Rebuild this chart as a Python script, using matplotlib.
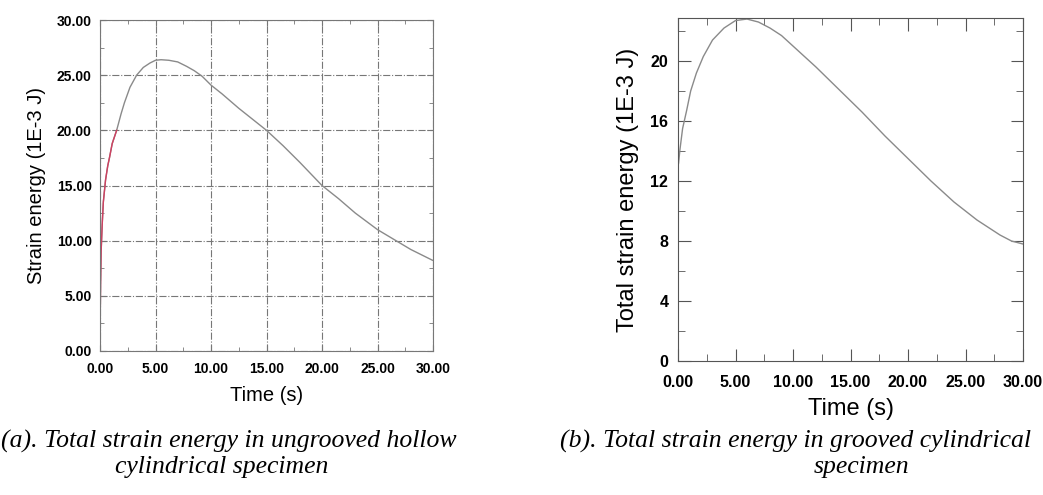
import matplotlib
matplotlib.use("Agg")
import matplotlib.pyplot as plt
from matplotlib.ticker import MultipleLocator, FormatStrFormatter

# (a) ungrooved hollow cylindrical specimen
left_time = [0, 0.02, 0.05, 0.1, 0.2, 0.3, 0.5, 0.7, 0.85, 1.1, 1.5, 1.9, 2.2, 2.7, 3.3,
             3.9, 4.5, 5.0, 5.5, 6.2, 7.0, 7.8, 8.5, 9.2, 10, 11, 12.5, 14, 15, 16.5,
             18, 20, 21.5, 23, 25, 26.5, 28, 29, 30]
left_energy = [0, 3, 6, 9, 11.5, 13.5, 15.5, 16.8, 17.5, 18.8, 20, 21.5, 22.5, 23.9, 25,
               25.7, 26.1, 26.35, 26.4, 26.35, 26.2, 25.8, 25.4, 24.9, 24.1, 23.3, 22.0,
               20.8, 20, 18.6, 17.1, 15, 13.8, 12.5, 11, 10.1, 9.2, 8.7, 8.2]
left_red_n = 11  # red series visible over the first points only

# (b) grooved cylindrical specimen
right_time = [0, 0.05, 0.17, 0.4, 0.75, 1.1, 1.6, 2.2, 3.0, 4.0, 5.0, 6.0, 7.0, 8.0,
              9.0, 10, 12, 14, 16, 18, 20, 22, 24, 26, 28, 29, 30]
right_energy = [13, 13.2, 14.1, 15.5, 16.7, 18.0, 19.2, 20.3, 21.4, 22.2, 22.7, 22.8,
                22.6, 22.2, 21.7, 21.0, 19.6, 18.1, 16.6, 15.0, 13.5, 12.0, 10.6, 9.4,
                8.4, 8.0, 7.8]
right_red_time = [0, 0]
right_red_energy = [0, 13]

W, H = 1043, 495
fig = plt.figure(figsize=(W / 100, H / 100), dpi=100)


def px_axes(x0, y0, x1, y1):
    return fig.add_axes([x0 / W, 1 - y1 / H, (x1 - x0) / W, (y1 - y0) / H])


def bold_ticks(ax):
    for lab in ax.get_xticklabels() + ax.get_yticklabels():
        lab.set_fontfamily("Liberation Sans")
        lab.set_fontweight("bold")


# ---- left panel
ax1 = px_axes(100, 20, 433, 351)
ax1.plot(left_time, left_energy, color="#8a8a8a", lw=1.0)
ax1.plot(left_time[:left_red_n], left_energy[:left_red_n], color="#d04060", lw=1.0)
ax1.set_xlim(0, 30)
ax1.set_ylim(0, 30)
ax1.xaxis.set_major_locator(MultipleLocator(5))
ax1.xaxis.set_minor_locator(MultipleLocator(2.5))
ax1.yaxis.set_major_locator(MultipleLocator(5))
ax1.yaxis.set_minor_locator(MultipleLocator(2.5))
ax1.xaxis.set_major_formatter(FormatStrFormatter("%.2f"))
ax1.yaxis.set_major_formatter(FormatStrFormatter("%.2f"))
ax1.grid(True, which="major", color="#777777", linestyle="-.", lw=0.8)
ax1.tick_params(which="both", direction="in", top=True, right=True, color="#777777")
ax1.tick_params(which="major", length=4, labelsize=10)
ax1.tick_params(axis="x", pad=8)
ax1.tick_params(axis="y", pad=6)
ax1.tick_params(which="minor", length=3)
bold_ticks(ax1)
for s in ax1.spines.values():
    s.set_color("#777777")
ax1.set_xlabel("Time (s)", fontsize=14.5, family="Liberation Sans", labelpad=7)
ax1.set_ylabel("Strain energy (1E-3 J)", fontsize=14.5, family="Liberation Sans", labelpad=8)

# ---- right panel
ax2 = px_axes(678, 18, 1023, 361)
ax2.plot(right_time, right_energy, color="#8a8a8a", lw=1.0)
ax2.plot(right_red_time, right_red_energy, color="#c01040", lw=1.2)
ax2.set_xlim(0, 30)
ax2.set_ylim(0, 22.87)
ax2.xaxis.set_major_locator(MultipleLocator(5))
ax2.xaxis.set_minor_locator(MultipleLocator(2.5))
ax2.yaxis.set_major_locator(MultipleLocator(4))
ax2.yaxis.set_minor_locator(MultipleLocator(2))
ax2.xaxis.set_major_formatter(FormatStrFormatter("%.2f"))
ax2.yaxis.set_major_formatter(FormatStrFormatter("%d"))
ax2.tick_params(which="both", direction="in", top=True, right=True, color="#555555")
ax2.tick_params(which="major", length=9, labelsize=11.5)
ax2.tick_params(axis="x", pad=10)
ax2.tick_params(axis="y", pad=7)
ax2.tick_params(which="minor", length=5)
bold_ticks(ax2)
for s in ax2.spines.values():
    s.set_color("#555555")
ax2.set_xlabel("Time (s)", fontsize=17, family="Liberation Sans", labelpad=6)
ax2.set_ylabel("Total strain energy (1E-3 J)", fontsize=17, family="Liberation Sans", labelpad=8)

# ---- captions
cap = {"family": "Liberation Serif", "style": "italic", "fontsize": 18.5}
fig.text(1 / W, 1 - 441 / H, "(a). Total strain energy in ungrooved hollow", ha="left", va="center", **cap)
fig.text(222 / W, 1 - 467 / H, "cylindrical specimen", ha="center", va="center", **cap)
fig.text(560 / W, 1 - 441 / H, "(b). Total strain energy in grooved cylindrical", ha="left", va="center", **cap)
fig.text(862 / W, 1 - 467 / H, "specimen", ha="center", va="center", **cap)

fig.savefig("out.png", dpi=100)
